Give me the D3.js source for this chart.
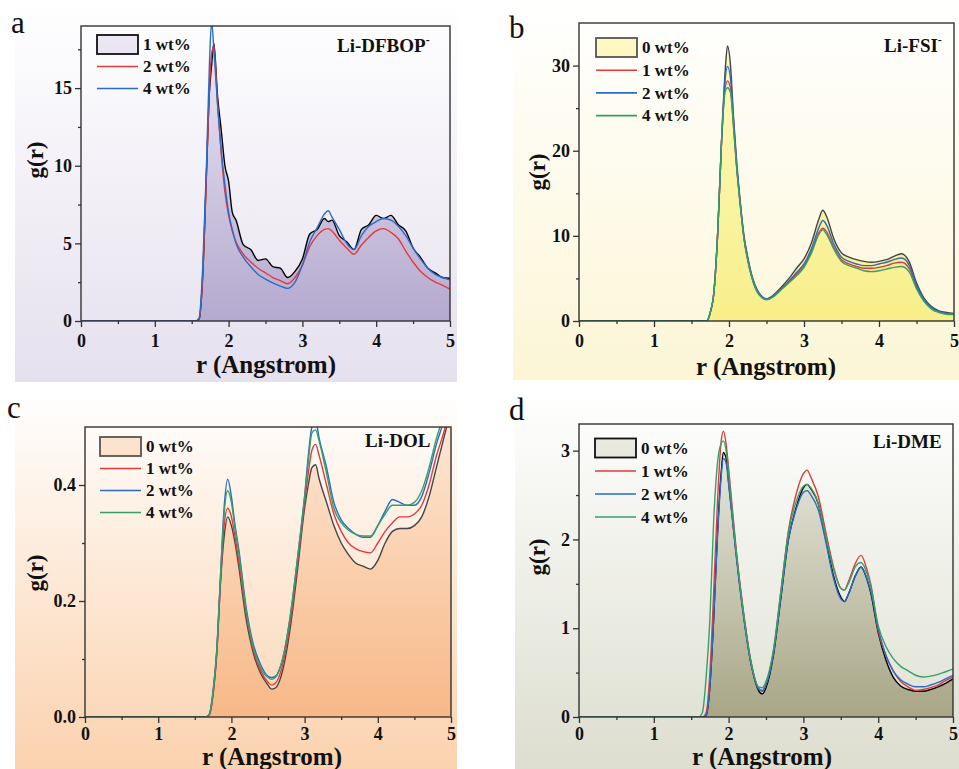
<!DOCTYPE html>
<html>
<head>
<meta charset="utf-8">
<script src="https://d3js.org/d3.v7.min.js"></script>
<style>
  body { margin: 0; background: #fff; }
  svg text { font-family: "Liberation Serif", "Times New Roman", serif; }
</style>
</head>
<body>
<div id="chart"></div>
<script>
// ---- panel a : Li-DFBOP- ----
var rA = [0, 1.55, 1.6, 1.65, 1.7, 1.74, 1.77, 1.8, 1.85, 1.9, 1.95, 2.0, 2.05, 2.1, 2.2, 2.3, 2.4, 2.5, 2.6, 2.7, 2.8, 2.9,
          3.0, 3.1, 3.2, 3.3, 3.35, 3.4, 3.5, 3.6, 3.7, 3.8, 3.9, 4.0, 4.1, 4.2, 4.3, 4.4, 4.5, 4.6, 4.7, 4.8, 4.9, 5.0];
var a1wt = [0, 0, 0.1, 3, 9.5, 14.7, 16.5, 17.9, 14.5, 12.3, 10.0, 9.0, 7.0, 6.5, 4.9, 4.6, 3.9, 4.0, 3.5, 3.4, 2.8, 3.2,
            4.0, 5.6, 5.9, 6.6, 6.4, 6.5, 5.5, 5.1, 4.6, 5.9, 6.2, 6.8, 6.6, 6.8, 6.2, 5.8, 4.7, 4.1, 3.4, 3.1, 2.8, 2.75];
var a2wt = [0, 0, 0.1, 3, 9.5, 15, 17.2, 17.7, 14.0, 10.8, 8.3, 6.8, 5.8, 5.1, 4.3, 3.8, 3.4, 3.1, 2.8, 2.6, 2.4, 2.8,
            3.6, 4.8, 5.5, 5.9, 5.95, 5.8, 5.2, 4.7, 4.3, 4.9, 5.4, 5.8, 5.95, 5.7, 5.3, 4.5, 3.8, 3.2, 2.8, 2.5, 2.3, 2.05];
var a4wt = [0, 0, 0.2, 3.5, 10, 16.5, 19.3, 17.5, 14.0, 11.0, 8.8, 7.0, 5.9, 5.0, 4.1, 3.5, 3.0, 2.7, 2.45, 2.25, 2.1, 2.5,
            3.6, 5.1, 6.0, 6.9, 7.1, 6.7, 5.9, 5.0, 4.6, 5.5, 6.1, 6.4, 6.6, 6.5, 6.1, 5.5, 4.7, 4.0, 3.4, 3.0, 2.8, 2.65];
var yTicksA = [0, 5, 10, 15];

// ---- panel b : Li-FSI- ----
var rB = [0, 1.7, 1.75, 1.8, 1.85, 1.9, 1.95, 1.98, 2.02, 2.06, 2.1, 2.15, 2.2, 2.25, 2.3, 2.4, 2.5, 2.6, 2.7, 2.8, 2.9, 3.0,
          3.1, 3.2, 3.25, 3.3, 3.4, 3.5, 3.6, 3.7, 3.8, 3.9, 4.0, 4.1, 4.2, 4.3, 4.4, 4.5, 4.6, 4.7, 4.8, 4.9, 5.0];
var b0wt = [0, 0, 1.0, 3.5, 10.5, 21, 29.5, 32.3, 30, 24, 19, 14, 10, 7.5, 5.5, 3.3, 2.6, 3.1, 4.0, 5.0, 6.2, 7.3,
            9.2, 12.0, 13.0, 12.3, 9.6, 8.0, 7.5, 7.2, 7.0, 6.9, 7.0, 7.2, 7.6, 7.9, 7.0, 4.5, 2.7, 1.7, 1.2, 1.0, 0.9];
var b1wt = [0, 0, 1.0, 3.5, 10.5, 21, 27.5, 28.2, 27.3, 23, 18.3, 13.7, 9.7, 7.2, 5.3, 3.1, 2.6, 3.0, 3.8, 4.6, 5.5, 6.5,
            8.2, 10.4, 10.9, 10.5, 8.6, 7.2, 6.7, 6.4, 6.2, 6.2, 6.3, 6.5, 6.8, 6.9, 6.2, 4.0, 2.4, 1.5, 1.05, 0.85, 0.8];
var b2wt = [0, 0, 1.0, 3.5, 10.5, 21, 28.5, 29.9, 28.5, 23.5, 18.5, 13.8, 9.8, 7.3, 5.4, 3.2, 2.6, 3.0, 3.8, 4.7, 5.7, 6.7,
            8.5, 11.0, 11.8, 11.3, 9.0, 7.5, 7.0, 6.7, 6.5, 6.5, 6.7, 6.9, 7.2, 7.4, 6.6, 4.2, 2.5, 1.6, 1.1, 0.9, 0.85];
var b4wt = [0, 0, 1.0, 3.5, 10.5, 21, 27, 27.4, 26.8, 22.8, 18.2, 13.6, 9.6, 7.1, 5.2, 3.1, 2.5, 2.9, 3.7, 4.5, 5.3, 6.3,
            8.0, 10.2, 10.7, 10.2, 8.4, 7.0, 6.5, 6.2, 5.9, 5.8, 5.9, 6.1, 6.3, 6.4, 5.8, 3.8, 2.3, 1.4, 1.0, 0.8, 0.75];
var yTicksB = [0, 10, 20, 30];

// ---- panel c : Li-DOL ----
var rC = [0, 1.65, 1.7, 1.75, 1.8, 1.85, 1.9, 1.95, 2.0, 2.05, 2.1, 2.2, 2.3, 2.4, 2.5, 2.55, 2.6, 2.7, 2.8, 2.9, 3.0, 3.05,
          3.1, 3.15, 3.2, 3.3, 3.4, 3.5, 3.6, 3.7, 3.8, 3.9, 4.0, 4.1, 4.2, 4.3, 4.4, 4.5, 4.6, 4.7, 4.8, 4.9, 5.0];
var c0wt = [0, 0, 0.005, 0.04, 0.11, 0.23, 0.31, 0.345, 0.33, 0.30, 0.26, 0.17, 0.11, 0.075, 0.055, 0.048, 0.05, 0.08, 0.15, 0.25, 0.36, 0.40,
            0.43, 0.435, 0.41, 0.37, 0.33, 0.30, 0.28, 0.265, 0.26, 0.255, 0.27, 0.30, 0.32, 0.325, 0.325, 0.33, 0.345, 0.38, 0.43, 0.48, 0.53];
var c1wt = [0, 0, 0.005, 0.04, 0.11, 0.23, 0.33, 0.36, 0.345, 0.31, 0.27, 0.18, 0.115, 0.08, 0.06, 0.055, 0.058, 0.09, 0.16, 0.26, 0.37, 0.42,
            0.46, 0.47, 0.45, 0.40, 0.35, 0.32, 0.30, 0.29, 0.285, 0.283, 0.30, 0.32, 0.335, 0.345, 0.345, 0.35, 0.365, 0.40, 0.45, 0.49, 0.54];
var c2wt = [0, 0, 0.005, 0.045, 0.115, 0.24, 0.36, 0.41, 0.38, 0.33, 0.29, 0.19, 0.125, 0.09, 0.07, 0.068, 0.07, 0.10, 0.17, 0.27, 0.38, 0.45,
            0.50, 0.51, 0.48, 0.43, 0.37, 0.34, 0.325, 0.315, 0.31, 0.31, 0.33, 0.355, 0.375, 0.37, 0.365, 0.365, 0.38, 0.42, 0.47, 0.51, 0.56];
var c4wt = [0, 0, 0.005, 0.045, 0.115, 0.24, 0.35, 0.39, 0.37, 0.325, 0.285, 0.185, 0.12, 0.085, 0.068, 0.065, 0.068, 0.10, 0.17, 0.27, 0.38, 0.44,
            0.49, 0.495, 0.475, 0.42, 0.36, 0.335, 0.322, 0.315, 0.312, 0.312, 0.33, 0.35, 0.365, 0.365, 0.365, 0.37, 0.39, 0.43, 0.48, 0.52, 0.57];
var yTicksC = [0, 0.2, 0.4];

// ---- panel d : Li-DME ----
var rD = [0, 1.6, 1.65, 1.7, 1.75, 1.8, 1.85, 1.9, 1.93, 1.97, 2.0, 2.05, 2.1, 2.2, 2.3, 2.4, 2.45, 2.5, 2.6, 2.7, 2.8, 2.9, 3.0,
          3.05, 3.1, 3.2, 3.3, 3.4, 3.5, 3.55, 3.6, 3.7, 3.77, 3.85, 3.9, 4.0, 4.1, 4.2, 4.3, 4.4, 4.5, 4.6, 4.7, 4.8, 4.9, 5.0];
var d0wt = [0, 0, 0, 0.02, 0.35, 1.1, 2.05, 2.75, 2.98, 2.9, 2.65, 2.25, 1.85, 1.15, 0.6, 0.3, 0.26, 0.33, 0.7, 1.35, 2.0, 2.35, 2.58,
            2.62, 2.57, 2.4, 2.0, 1.6, 1.35, 1.3, 1.38, 1.6, 1.69, 1.55, 1.40, 0.95, 0.65, 0.45, 0.35, 0.31, 0.29, 0.29, 0.31, 0.34, 0.38, 0.43];
var d1wt = [0, 0, 0, 0.05, 0.5, 1.4, 2.4, 3.1, 3.22, 3.05, 2.8, 2.35, 1.9, 1.18, 0.62, 0.32, 0.3, 0.37, 0.74, 1.42, 2.1, 2.5, 2.74,
            2.78, 2.7, 2.48, 2.08, 1.7, 1.45, 1.43, 1.52, 1.74, 1.82, 1.66, 1.5, 0.97, 0.7, 0.52, 0.4, 0.34, 0.3, 0.31, 0.33, 0.36, 0.41, 0.45];
var d2wt = [0, 0, 0, 0.02, 0.35, 1.1, 2.0, 2.7, 2.91, 2.85, 2.62, 2.23, 1.83, 1.13, 0.6, 0.32, 0.29, 0.36, 0.72, 1.36, 2.0, 2.33, 2.53,
            2.55, 2.5, 2.33, 1.97, 1.57, 1.33, 1.3, 1.38, 1.6, 1.69, 1.56, 1.42, 1.0, 0.7, 0.52, 0.42, 0.37, 0.34, 0.34, 0.36, 0.39, 0.43, 0.47];
var d4wt = [0, 0, 0.05, 0.45, 1.1, 2.2, 2.85, 3.08, 3.11, 2.98, 2.75, 2.3, 1.88, 1.17, 0.62, 0.34, 0.33, 0.4, 0.76, 1.42, 2.08, 2.42, 2.6,
            2.62, 2.58, 2.4, 2.03, 1.68, 1.45, 1.43, 1.5, 1.7, 1.74, 1.62, 1.48, 1.03, 0.8, 0.66, 0.57, 0.52, 0.47, 0.45, 0.46, 0.48, 0.51, 0.54];
var yTicksD = [0, 1, 2, 3];

var xTicks = [0, 1, 2, 3, 4, 5];
var xMinor = [0.5, 1.5, 2.5, 3.5, 4.5];

var RED = "#e5393c", BLUE = "#2a6bc6", GREEN = "#35a066";

var panels = [
  { id: "a", letter: "a", label: "Li-DFBOP", sup: "-", r: rA, ymax: 19, yTicks: yTicksA, yMinor: [2.5, 7.5, 12.5, 17.5], fmt: d3.format("d"),
    box: [81, 450, 26, 321], bg: [15, 0, 442, 382, "#e5e0ee"], fillTop: "#efeaf5", fillBot: "#b4a9cf", xPad: 7,
    letterPos: [11, 33], labelPos: [337, 52], xTitle: [266, 373], yTitle: [35, 160], legend: [97, 44.5, 22],
    series: [
      { name: "1 wt%", vals: a1wt, color: "#000", fill: true },
      { name: "2 wt%", vals: a2wt, color: RED },
      { name: "4 wt%", vals: a4wt, color: BLUE }
    ] },
  { id: "b", letter: "b", label: "Li-FSI", sup: "-", r: rB, ymax: 35, yTicks: yTicksB, yMinor: [5, 15, 25], fmt: d3.format("d"),
    box: [579, 954, 23, 321], bg: [513, 0, 446, 380, "#fcf6d6"], fillTop: "#fdf9c4", fillBot: "#f8ef8a", xPad: 7,
    letterPos: [509, 38], labelPos: [884, 52], xTitle: [766, 375], yTitle: [537, 172], legend: [596, 47.5, 22.7],
    series: [
      { name: "0 wt%", vals: b0wt, color: "#444", fill: true },
      { name: "1 wt%", vals: b1wt, color: RED },
      { name: "2 wt%", vals: b2wt, color: BLUE },
      { name: "4 wt%", vals: b4wt, color: GREEN }
    ] },
  { id: "c", letter: "c", label: "Li-DOL", sup: "", r: rC, ymax: 0.5, yTicks: yTicksC, yMinor: [0.1, 0.3], fmt: d3.format(".1f"),
    box: [85, 451, 427, 717], bg: [15, 392, 442, 377, "#fbd2ae"], fillTop: "#fde6d2", fillBot: "#f7b887", xPad: 4,
    letterPos: [7, 418], labelPos: [365, 447], xTitle: [272, 765], yTitle: [35, 573], legend: [100, 446.5, 22],
    series: [
      { name: "0 wt%", vals: c0wt, color: "#444", fill: true },
      { name: "1 wt%", vals: c1wt, color: RED },
      { name: "2 wt%", vals: c2wt, color: BLUE },
      { name: "4 wt%", vals: c4wt, color: GREEN }
    ] },
  { id: "d", letter: "d", label: "Li-DME", sup: "", r: rD, ymax: 3.3, yTicks: yTicksD, yMinor: [0.5, 1.5, 2.5], fmt: d3.format("d"),
    box: [579, 953, 424, 717], bg: [515, 392, 444, 377, "#dddecf"], fillTop: "#eeeee6", fillBot: "#a8a686", xPad: 4,
    letterPos: [509, 420], labelPos: [873, 448], xTitle: [762, 765], yTitle: [537, 557], legend: [595, 448, 23],
    series: [
      { name: "0 wt%", vals: d0wt, color: "#000", fill: true },
      { name: "1 wt%", vals: d1wt, color: RED },
      { name: "2 wt%", vals: d2wt, color: BLUE },
      { name: "4 wt%", vals: d4wt, color: GREEN }
    ] }
];

var svg = d3.select("#chart").append("svg")
    .attr("width", 959).attr("height", 769);
var defs = svg.append("defs");

function vgrad(id, y1, y2, c1, c2) {
  var gr = defs.append("linearGradient").attr("id", id)
      .attr("gradientUnits", "userSpaceOnUse")
      .attr("x1", 0).attr("x2", 0).attr("y1", y1).attr("y2", y2);
  gr.append("stop").attr("offset", 0).attr("stop-color", c1);
  gr.append("stop").attr("offset", 1).attr("stop-color", c2);
}

panels.forEach(function(p) {
  var L = p.box[0], R = p.box[1], T = p.box[2], B = p.box[3];
  var g = svg.append("g");

  // panel background
  vgrad("bg-" + p.id, p.bg[1], p.bg[1] + p.bg[3], "#ffffff", p.bg[4]);
  g.append("rect").attr("x", p.bg[0]).attr("y", p.bg[1]).attr("width", p.bg[2]).attr("height", p.bg[3])
    .attr("fill", "url(#bg-" + p.id + ")");

  var x = d3.scaleLinear().domain([0, 5]).range([L, R]);
  var y = d3.scaleLinear().domain([0, p.ymax]).range([B, T]);

  defs.append("clipPath").attr("id", "clip-" + p.id)
    .append("rect").attr("x", L).attr("y", T).attr("width", R - L).attr("height", B - T);
  vgrad("fill-" + p.id, T, B, p.fillTop, p.fillBot);

  var plot = g.append("g").attr("clip-path", "url(#clip-" + p.id + ")");

  var fillSeries = p.series.filter(function(s) { return s.fill; })[0];
  var area = d3.area().curve(d3.curveMonotoneX)
    .x(function(d, i) { return x(p.r[i]); }).y0(B).y1(function(d) { return y(d); });
  plot.append("path").datum(fillSeries.vals).attr("d", area).attr("fill", "url(#fill-" + p.id + ")");

  var line = d3.line().curve(d3.curveMonotoneX)
    .x(function(d, i) { return x(p.r[i]); }).y(function(d) { return y(d); });
  p.series.forEach(function(s) {
    plot.append("path").datum(s.vals).attr("d", line)
      .attr("fill", "none").attr("stroke", s.color).attr("stroke-width", 1.4)
      .attr("stroke-linejoin", "round");
  });

  // frame
  g.append("rect").attr("x", L).attr("y", T).attr("width", R - L).attr("height", B - T)
    .attr("fill", "none").attr("stroke", "#333").attr("stroke-width", 1.4);

  // axes
  g.append("g").attr("transform", "translate(0," + B + ")")
    .call(d3.axisBottom(x).tickValues(xTicks).tickSize(6).tickPadding(p.xPad).tickFormat(d3.format("d")));
  g.append("g").attr("transform", "translate(0," + B + ")")
    .call(d3.axisBottom(x).tickValues(xMinor).tickSize(3).tickFormat(""));
  g.append("g").attr("transform", "translate(" + L + ",0)")
    .call(d3.axisLeft(y).tickValues(p.yTicks).tickSize(6).tickPadding(3).tickFormat(p.fmt));
  g.append("g").attr("transform", "translate(" + L + ",0)")
    .call(d3.axisLeft(y).tickValues(p.yMinor).tickSize(3).tickFormat(""));
  g.selectAll(".domain").remove();
  g.selectAll(".tick line").attr("stroke", "#333").attr("stroke-width", 1.3);
  g.selectAll(".tick text").attr("fill", "#111").style("font-size", "18px").style("font-weight", "bold")
    .style("font-family", "'Liberation Serif', serif");

  // titles
  g.append("text").attr("x", p.xTitle[0]).attr("y", p.xTitle[1]).attr("text-anchor", "middle")
    .style("font-size", "25px").style("font-weight", "bold").attr("fill", "#111").text("r (Angstrom)");
  g.append("text").attr("transform", "translate(" + p.yTitle[0] + "," + p.yTitle[1] + ") rotate(-90)")
    .attr("text-anchor", "middle").attr("dy", "0.35em")
    .style("font-size", "23px").style("font-weight", "bold").attr("fill", "#111").text("g(r)");

  // panel letter
  g.append("text").attr("x", p.letterPos[0]).attr("y", p.letterPos[1])
    .style("font-size", "31px").attr("fill", "#111").text(p.letter);

  // system label
  var lab = g.append("text").attr("x", p.labelPos[0]).attr("y", p.labelPos[1])
    .style("font-size", "19px").style("font-weight", "bold").attr("fill", "#111").text(p.label);
  if (p.sup) {
    lab.append("tspan").attr("dy", -8).style("font-size", "12px").text(p.sup);
  }

  // legend
  var lx = p.legend[0], ly = p.legend[1], step = p.legend[2];
  p.series.forEach(function(s, i) {
    var cy = ly + i * step;
    if (s.fill) {
      g.append("rect").attr("x", lx).attr("y", cy - 9.5).attr("width", 41).attr("height", 19)
        .attr("fill", "url(#fill-" + p.id + ")").attr("stroke", s.color === "#000" ? "#111" : "#555")
        .attr("stroke-width", 1.8);
    } else {
      g.append("line").attr("x1", lx).attr("x2", lx + 41).attr("y1", cy).attr("y2", cy)
        .attr("stroke", s.color).attr("stroke-width", 1.6);
    }
    g.append("text").attr("x", lx + 46).attr("y", cy).attr("dy", "0.33em")
      .style("font-size", "17px").style("font-weight", "bold").attr("fill", "#111").text(s.name);
  });
});
</script>
</body>
</html>
